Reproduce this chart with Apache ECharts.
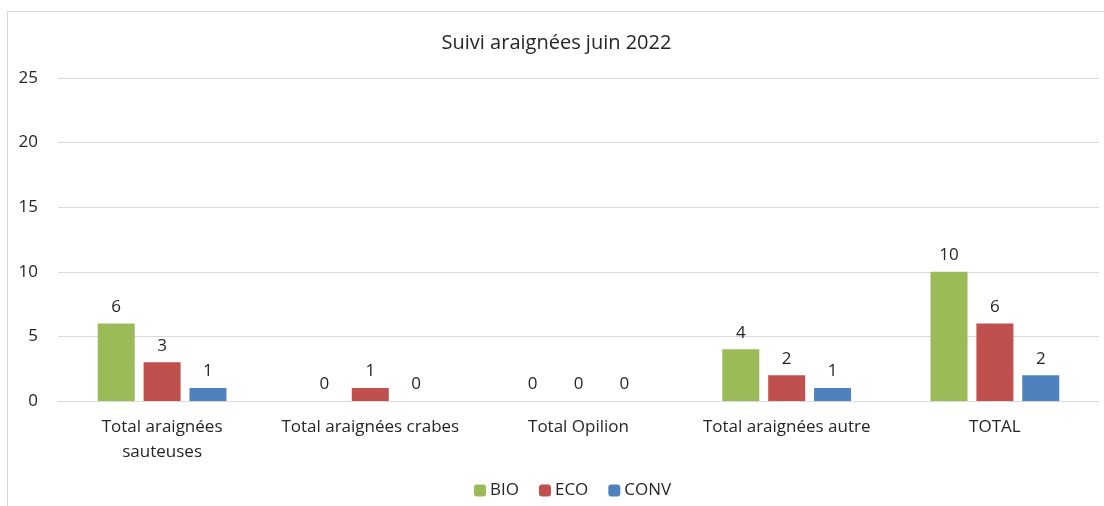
<!DOCTYPE html>
<html>
<head>
<meta charset="utf-8">
<script src="https://cdn.jsdelivr.net/npm/echarts@6/dist/echarts.min.js"></script>
<style>
  html, body { margin: 0; padding: 0; background: #fff; }
  #frame {
    position: absolute; left: 7px; top: 11px; width: 1097px; height: 495px;
    border-left: 1px solid #d9d9d9; border-top: 1px solid #d9d9d9;
  }
  #chart { width: 1097px; height: 495px; }
</style>
</head>
<body>
<div id="frame"><div id="chart"></div></div>
<script>
// données du suivi
var categories = ['Total araignées\nsauteuses', 'Total araignées crabes', 'Total Opilion', 'Total araignées autre', 'TOTAL'];
var bio = [6, 0, 0, 4, 10];
var eco = [3, 1, 0, 2, 6];
var conv = [1, 0, 0, 1, 2];

var font = 'Open Sans';
var textColor = '#262626';

function barSerie(name, data, color) {
  return {
    name: name,
    type: 'bar',
    data: data,
    barWidth: 37,
    barGap: '24%',
    itemStyle: { color: color },
    label: {
      show: true,
      position: 'top',
      distance: 8,
      color: textColor,
      fontFamily: font,
      fontSize: 17
    }
  };
}

var myChart = echarts.init(document.getElementById('chart'));
myChart.setOption({
  animation: false,
  title: {
    text: 'Suivi araignées juin 2022',
    left: 'center',
    top: 16,
    textStyle: { fontFamily: font, fontSize: 20, fontWeight: 'normal', color: textColor }
  },
  legend: {
    bottom: 3,
    left: 461,
    itemWidth: 12,
    itemHeight: 12,
    itemGap: 20,
    textStyle: { fontFamily: font, fontSize: 17, color: textColor, padding: [0, 0, 0, -1] },
    data: ['BIO', 'ECO', 'CONV']
  },
  grid: { left: 50, right: 6, top: 66, bottom: 106, containLabel: false },
  xAxis: {
    type: 'category',
    data: categories,
    axisLine: { lineStyle: { color: '#d9d9d9' } },
    axisTick: { show: false },
    axisLabel: { margin: 14, color: textColor, fontFamily: font, fontSize: 17, lineHeight: 25, interval: 0 }
  },
  yAxis: {
    type: 'value',
    min: 0,
    max: 25,
    interval: 5,
    axisLine: { show: false },
    axisTick: { show: false },
    splitLine: { lineStyle: { color: '#d9d9d9' } },
    axisLabel: { margin: 20, color: textColor, fontFamily: font, fontSize: 17 }
  },
  series: [
    barSerie('BIO', bio, '#9bbb59'),
    barSerie('ECO', eco, '#c0504d'),
    barSerie('CONV', conv, '#4f81bd')
  ]
});
</script>
</body>
</html>
